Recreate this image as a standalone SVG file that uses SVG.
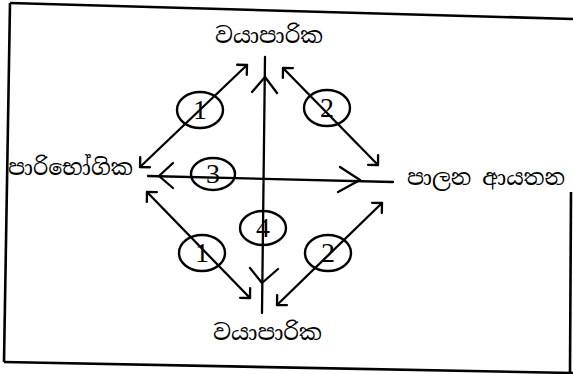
<svg xmlns="http://www.w3.org/2000/svg" width="573" height="374" viewBox="0 0 573 374">
<defs>
<style>
.ln{fill:none;stroke:#000;stroke-width:2.3;stroke-linecap:round;stroke-linejoin:round}
.bd{fill:none;stroke:#000;stroke-width:2.6}
.el{fill:none;stroke:#000;stroke-width:2.4}
.lbl{font-family:"Noto Serif Sinhala","Noto Sans Sinhala","Iskoola Pota","Noto Sans",sans-serif;font-size:22px;fill:#000}
.num{font-family:"Liberation Serif",serif;font-size:28px;fill:#000;text-anchor:middle}
</style>
<marker id="ah" markerUnits="userSpaceOnUse" markerWidth="20" markerHeight="20" viewBox="-10 -10 20 20" refX="0" refY="0" orient="auto-start-reverse">
<path d="M-7,-7 L0,0 L-7,7" fill="none" stroke="#000" stroke-width="2.3" stroke-linecap="round" stroke-linejoin="round"/>
</marker>
</defs>
<rect width="573" height="374" fill="#fff"/>
<g id="frame">
<path class="bd" d="M10,3 L573,19"/>
<path class="bd" d="M10,3 L4,362"/>
<path class="bd" d="M4,362 L573,373"/>
<path class="bd" d="M571,192 L570,373"/>
</g>
<g id="top">
<text class="lbl" x="215" y="43" textLength="108" lengthAdjust="spacingAndGlyphs">වයාපාරික</text>
</g>
<g id="bottom">
<text class="lbl" x="213" y="340" textLength="109" lengthAdjust="spacingAndGlyphs">වයාපාරික</text>
</g>
<g id="left">
<text class="lbl" x="8" y="175" textLength="125" lengthAdjust="spacingAndGlyphs">පාරිභෝගික</text>
</g>
<g id="right">
<text class="lbl" x="407" y="185" textLength="158" lengthAdjust="spacingAndGlyphs">පාලන ආයතන</text>
</g>
<g id="connectors">
<path class="ln" d="M265,57 L262,313"/>
<path class="ln" d="M252,92 L265,77 L277,93"/>
<path class="ln" d="M250,268 L262,283 L278,269"/>
<path class="ln" d="M148,176 L393,182"/>
<path class="ln" d="M173,163 L159,176 L173,188"/>
<path class="ln" d="M340,167 L360,180 L338,192"/>
<path class="ln" d="M140,167 L247,65" marker-start="url(#ah)" marker-end="url(#ah)"/>
<path class="ln" d="M283,68 L378,165" marker-start="url(#ah)" marker-end="url(#ah)"/>
<path class="ln" d="M147,192 L250,298" marker-start="url(#ah)" marker-end="url(#ah)"/>
<path class="ln" d="M277,305 L382,203" marker-start="url(#ah)" marker-end="url(#ah)"/>
</g>
<g id="c1a"><ellipse class="el" cx="200" cy="110" rx="23" ry="18"/><text class="num" x="200" y="119">1</text></g>
<g id="c2a"><ellipse class="el" cx="327" cy="108" rx="23" ry="18"/><text class="num" x="327" y="117">2</text></g>
<g id="c3"><ellipse class="el" cx="213" cy="174" rx="22" ry="16"/><text class="num" x="213" y="183">3</text></g>
<g id="c4"><ellipse class="el" cx="263" cy="228" rx="23" ry="17"/><text class="num" x="263" y="237">4</text></g>
<g id="c1b"><ellipse class="el" cx="202" cy="253" rx="23" ry="18"/><text class="num" x="202" y="262">1</text></g>
<g id="c2b"><ellipse class="el" cx="328" cy="253" rx="23" ry="18"/><text class="num" x="328" y="262">2</text></g>
</svg>
